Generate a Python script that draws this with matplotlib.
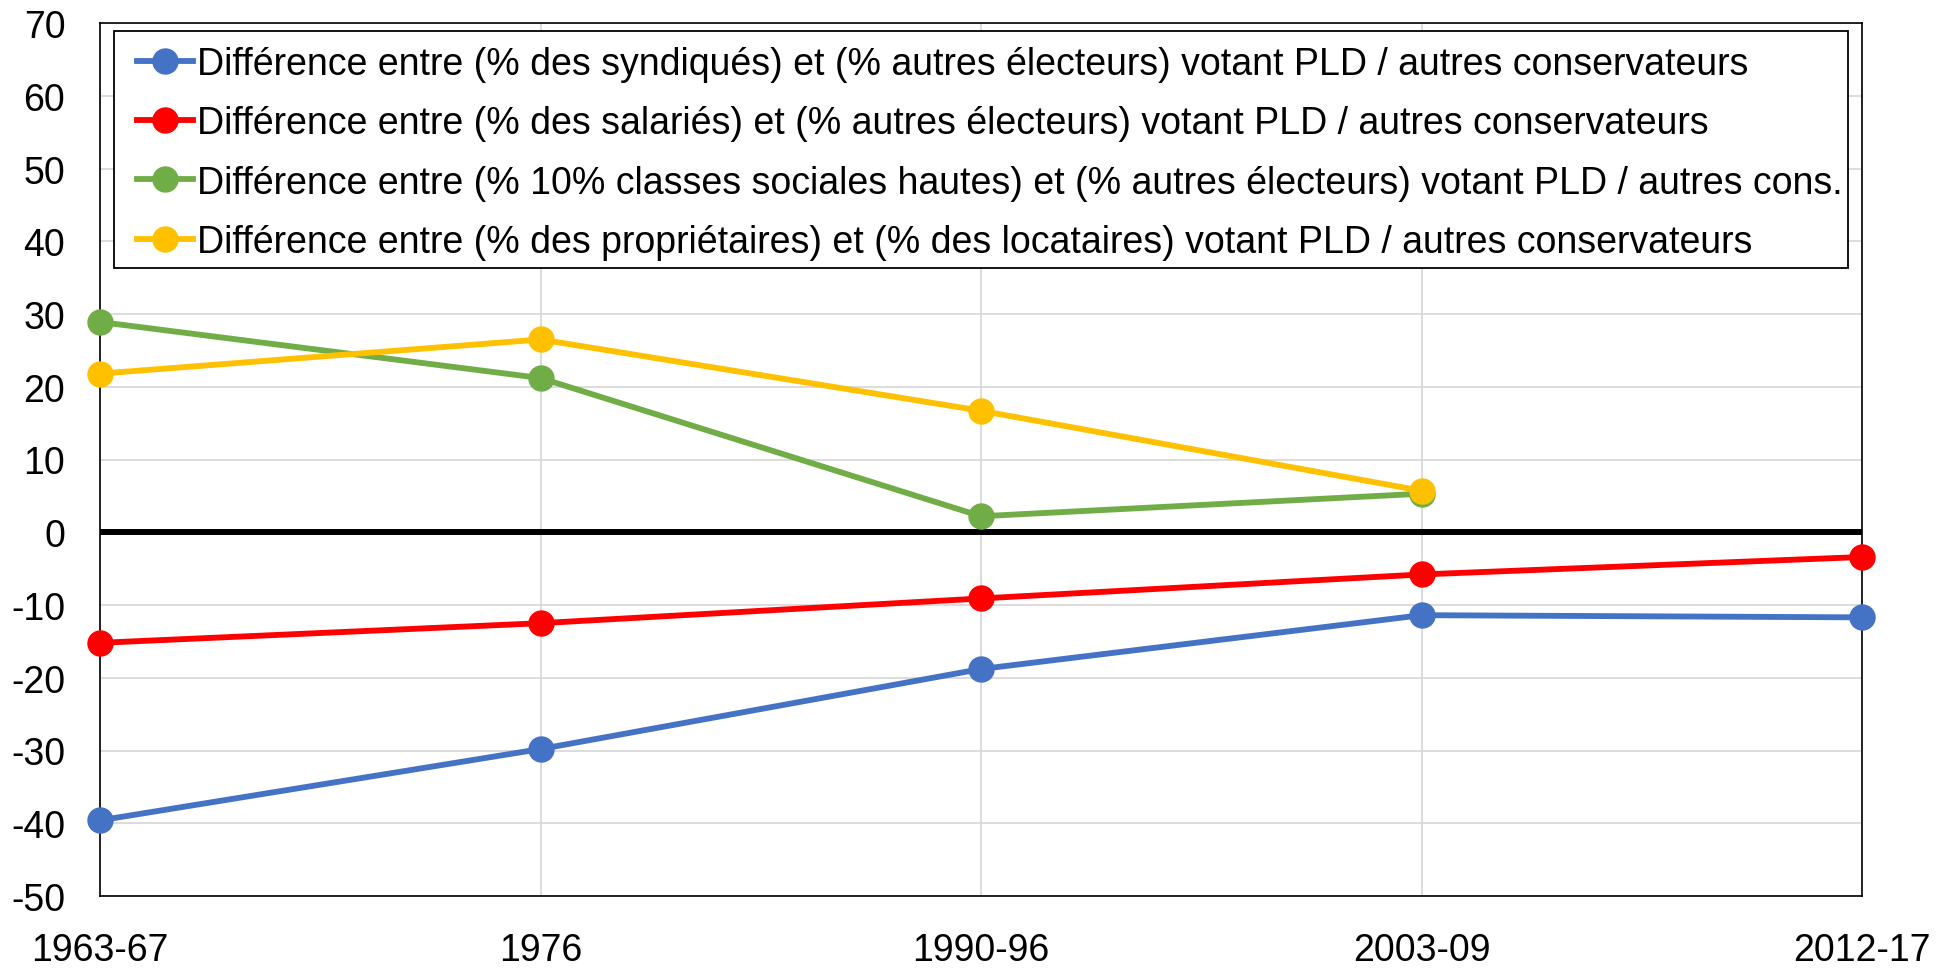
import matplotlib
matplotlib.use("Agg")
import matplotlib.pyplot as plt
from matplotlib.patches import Rectangle

# Périodes électorales (axe des x)
periodes = ["1963-67", "1976", "1990-96", "2003-09", "2012-17"]

# Valeurs (None = pas de donnée)
syndiques = [-39.6, -29.8, -18.8, -11.4, -11.7]
salaries = [-15.2, -12.5, -9.1, -5.8, -3.4]
classes_hautes = [28.9, 21.2, 2.2, 5.3, None]
proprietaires = [21.8, 26.5, 16.7, 5.7, None]

noms = [
    "Différence entre (% des syndiqués) et (% autres électeurs) votant PLD / autres conservateurs",
    "Différence entre (% des salariés) et (% autres électeurs) votant PLD / autres conservateurs",
    "Différence entre (% 10% classes sociales hautes) et (% autres électeurs) votant PLD / autres cons.",
    "Différence entre (% des propriétaires) et (% des locataires) votant PLD / autres conservateurs",
]
couleurs = ["#4472C4", "#FF0000", "#70AD47", "#FFC000"]

plt.rcParams['font.family'] = ['Liberation Sans', 'DejaVu Sans']
plt.rcParams['axes.unicode_minus'] = False  # tirets simples comme dans Excel

W, H = 1951, 970  # taille en pixels

def plot_graph():
    fig = plt.figure(figsize=(W / 100, H / 100), dpi=100)
    ax = fig.add_axes([100 / W, 73 / H, 1762 / W, 873 / H])

    x = list(range(len(periodes)))
    series = [syndiques, salaries, classes_hautes, proprietaires]
    for vals, nom, coul in zip(series, noms, couleurs):
        xs = [xi for xi, v in zip(x, vals) if v is not None]
        ys = [v for v in vals if v is not None]
        ax.plot(xs, ys, color=coul, linewidth=4.2, marker="o", markersize=18,
                label=nom, zorder=3, clip_on=False)

    ax.axhline(0, color="black", linewidth=4.3, zorder=2)

    ax.set_xlim(0, len(periodes) - 1)
    ax.set_ylim(-50, 70)
    ax.set_xticks(x)
    ax.set_xticklabels(periodes)
    ax.set_yticks(range(-50, 71, 10))
    ax.tick_params(axis="both", length=0, labelsize=27)
    ax.tick_params(axis="x", pad=26)
    ax.tick_params(axis="y", pad=25)
    ax.grid(True, color="#d9d9d9", linewidth=1.3, zorder=0)
    ax.set_axisbelow(True)
    for sp in ax.spines.values():
        sp.set_color("black")
        sp.set_linewidth(1.2)

    # cadre de la légende dessiné à part (marges gauche/haut différentes)
    cadre = Rectangle((114 / W, 1 - 269 / H), 1734 / W, 237 / H,
                      transform=fig.transFigure, facecolor="white",
                      edgecolor="black", linewidth=1.3, zorder=4, clip_on=False)
    ax.add_patch(cadre)

    leg = ax.legend(loc="upper left", bbox_to_anchor=(137 / W, 1 - 47 / H),
                    bbox_transform=fig.transFigure, fontsize=27, frameon=False,
                    borderpad=0, labelspacing=0.62, handlelength=1.5,
                    handletextpad=0.1, borderaxespad=0, numpoints=1)
    leg.set_zorder(5)

    fig.savefig("out.png", dpi=100)

if __name__ == "__main__":
    plot_graph()
